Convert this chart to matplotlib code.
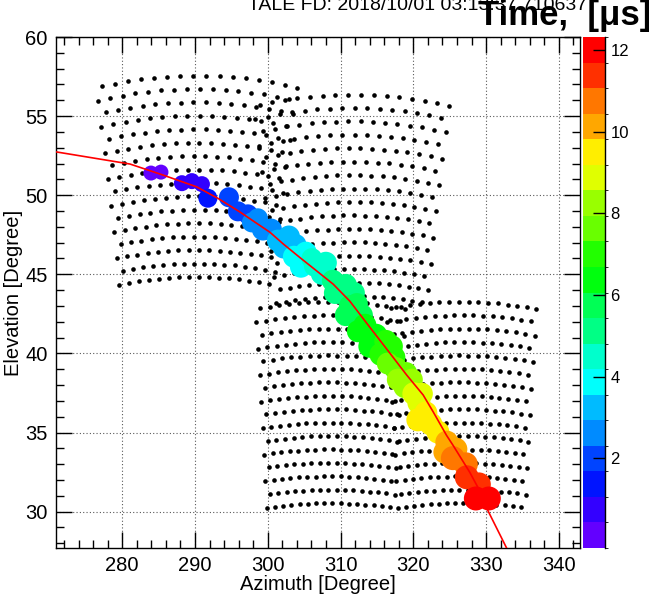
import numpy as np
import matplotlib
matplotlib.use("Agg")
import matplotlib.pyplot as plt
from matplotlib.colors import ListedColormap, BoundaryNorm
from matplotlib.ticker import MultipleLocator
import colorsys

plt.rcParams['font.family'] = ['Liberation Sans', 'DejaVu Sans']

# camera pointing directions (deg) for the four mirrors in view
cam_az = [290.2, 311.5, 308.6, 326.6]
cam_el = [51.2, 50.0, 36.9, 36.9]
n_rows = 16
n_cols = 16
tube_spacing = 0.98

# hit tubes: direction, time of the pulse (us) and marker diameter (px)
hit_az = [283.94, 285.32, 288.20, 289.57, 290.95, 291.77, 294.66, 295.89, 297.27, 298.64,
          299.33, 300.43, 301.39, 302.90, 302.21, 303.59, 305.23, 304.55, 306.47, 307.98,
          307.43, 308.94, 310.73, 311.83, 309.90, 311.28, 312.93, 310.73, 313.34, 314.85,
          314.02, 316.22, 315.54, 317.32, 317.60, 318.97, 318.83, 320.07, 320.76, 321.72,
          322.40, 323.37, 324.60, 325.84, 325.43, 327.21, 327.35, 329.00, 328.59, 330.37,
          297.82, 303.86, 306.06, 309.22, 312.24, 312.38, 317.05, 316.50, 319.79, 317.87,
          321.17, 320.62, 324.33]
hit_el = [51.40, 51.46, 50.76, 50.89, 50.70, 49.81, 49.87, 48.98, 48.79, 48.54,
          47.83, 47.83, 47.13, 47.39, 46.69, 46.11, 46.37, 45.48, 45.54, 45.73,
          45.03, 44.59, 44.33, 43.82, 43.82, 42.99, 42.42, 42.42, 41.78, 41.15,
          40.45, 40.76, 39.94, 39.75, 39.04, 38.73, 37.90, 37.45, 36.88, 36.24,
          35.54, 35.03, 34.39, 33.95, 33.38, 32.99, 32.17, 31.72, 30.83, 30.83,
          48.28, 46.88, 45.99, 43.82, 43.12, 41.40, 40.45, 39.36, 38.34, 38.34,
          37.45, 35.80, 33.76]
hit_time = [0.05, 0.15, 0.70, 0.75, 0.85, 1.35, 1.90, 2.00, 2.10, 2.55,
            2.65, 2.70, 3.15, 3.25, 3.30, 3.85, 3.90, 4.00, 4.45, 4.50,
            4.60, 5.05, 5.15, 5.20, 5.25, 5.70, 5.80, 5.75, 6.30, 6.40,
            6.45, 6.95, 7.05, 7.10, 7.60, 7.70, 8.25, 8.85, 8.95, 9.40,
            9.50, 9.60, 10.10, 10.20, 10.70, 10.80, 11.35, 11.45, 12.00, 12.30,
            2.60, 3.20, 4.40, 5.10, 5.72, 6.35, 7.00, 7.55, 8.20, 8.30,
            8.90, 9.45, 10.15]
hit_size = [15, 15, 16, 16, 16, 19, 20, 20, 20, 20,
            22, 22, 22, 22, 22, 22, 22, 22, 22, 22,
            22, 22, 22, 22, 22, 22, 22, 22, 23, 23,
            23, 23, 23, 23, 23, 23, 23, 23, 23, 23,
            23, 23, 23, 23, 24, 24, 24, 24, 24, 24,
            20, 21, 21, 22, 22, 22, 22, 22, 22, 22,
            22, 23, 23]

# shower-detector plane track
track_az = [270.9, 281.07, 285.63, 290.22, 293.19, 296.17, 300.29, 302.12, 304.41, 306.70,
            308.98, 311.26, 314.26, 316.77, 319.07, 321.35, 322.72, 324.56, 325.47, 327.76,
            329.37, 330.27, 332.80]
track_el = [52.74, 51.97, 51.27, 50.53, 49.79, 48.94, 47.66, 46.92, 46.06, 45.22,
            44.38, 43.31, 41.51, 40.02, 38.64, 37.37, 36.31, 34.82, 34.18, 32.48,
            31.10, 30.04, 27.71]

t_min, t_max = -0.2, 12.32
n_contours = 20


def camera_tubes(az0, el0):
    # hexagonal tube cluster projected from the camera focal plane onto the sky
    a0, e0 = np.radians(az0), np.radians(el0)
    c = np.array([np.cos(e0) * np.cos(a0), np.cos(e0) * np.sin(a0), np.sin(e0)])
    eu = np.array([-np.sin(a0), np.cos(a0), 0.0])
    ev = np.array([-np.sin(e0) * np.cos(a0), -np.sin(e0) * np.sin(a0), np.cos(e0)])
    az, el = [], []
    for r in range(n_rows):
        v = (r - (n_rows - 1) / 2) * tube_spacing * np.sqrt(3) / 2
        shift = 0.25 * tube_spacing if r % 2 else -0.25 * tube_spacing
        for k in range(n_cols):
            u = (k - (n_cols - 1) / 2) * tube_spacing + shift
            d = c + np.tan(np.radians(u)) * eu + np.tan(np.radians(v)) * ev
            d = d / np.linalg.norm(d)
            az.append(np.degrees(np.arctan2(d[1], d[0])) % 360)
            el.append(np.degrees(np.arcsin(d[2])))
    return az, el


# old ROOT "pretty" palette sampled at 20 contour levels
palette = []
for k in range(n_contours):
    idx = int((k + 0.99) * 50 / n_contours)
    if idx >= 49:
        palette.append((1.0, 0.0, 0.0))
    else:
        hue = 280 - (idx + 1) * 280 / 50
        palette.append(colorsys.hls_to_rgb(hue / 360, 0.5, 1.0))
cmap = ListedColormap(palette)
norm = BoundaryNorm(np.linspace(t_min, t_max, n_contours + 1), n_contours)

fig = plt.figure(figsize=(6.49, 5.95), dpi=100)
ax = fig.add_axes([0.0863, 0.079, 0.8074, 0.8588])
cax = fig.add_axes([0.8983, 0.079, 0.0339, 0.8588])

for a0, e0 in zip(cam_az, cam_el):
    taz, tel = camera_tubes(a0, e0)
    ax.scatter(taz, tel, s=11, color='black', linewidths=0, zorder=2)

# later pulses drawn on top
order = np.argsort(hit_time)
sc = ax.scatter(np.array(hit_az)[order], np.array(hit_el)[order],
                c=np.array(hit_time)[order], cmap=cmap, norm=norm,
                s=[(hit_size[i] * 0.72) ** 2 for i in order], linewidths=0, zorder=3)
ax.plot(track_az, track_el, color='red', lw=1.2, zorder=4)

ax.set_xlim(270.9, 342.9)
ax.set_ylim(27.7, 60)
ax.xaxis.set_major_locator(MultipleLocator(10))
ax.xaxis.set_minor_locator(MultipleLocator(2))
ax.yaxis.set_major_locator(MultipleLocator(5))
ax.yaxis.set_minor_locator(MultipleLocator(1))
ax.tick_params(which='both', direction='in', top=True, right=True, width=1, labelsize=14.5)
ax.tick_params(which='major', length=11.5, pad=6)
ax.tick_params(which='minor', length=5.8)
ax.grid(True, which='major', color='0.35', linestyle=(0, (1, 2)), linewidth=0.8)
ax.set_axisbelow(True)
for sp in ax.spines.values():
    sp.set_linewidth(1.0)
ax.set_xlabel('Azimuth [Degree]', fontsize=14.5, labelpad=0)
ax.set_ylabel('Elevation [Degree]', fontsize=14.5, labelpad=2)

cb = fig.colorbar(sc, cax=cax)
cb.outline.set_visible(False)
cax.spines['right'].set_visible(True)
cax.spines['right'].set_linewidth(1.0)
cb.set_ticks([2, 4, 6, 8, 10, 12])
cax.tick_params(direction='in', length=9, width=1, labelsize=12, pad=4)

fig.text(0.644, 0.9835, 'TALE FD: 2018/10/01 03:13:37.710637', ha='center', va='baseline',
         fontsize=14)
fig.text(1.004, 0.9735, 'Time,  [μs]', ha='right', va='center',
         fontsize=25, fontweight='bold')

fig.savefig('out.png', dpi=100)
